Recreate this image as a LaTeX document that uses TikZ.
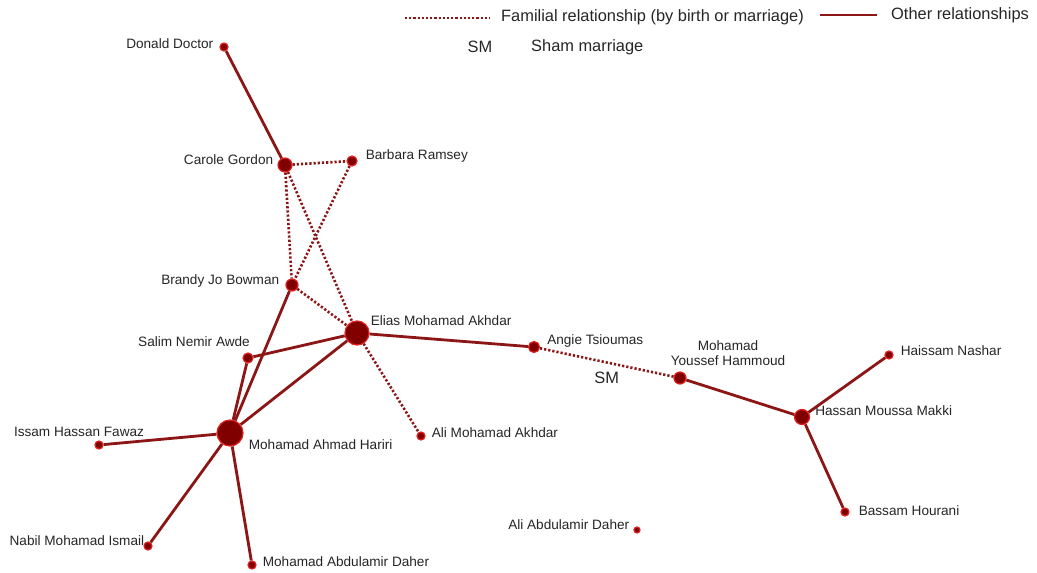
\documentclass[tikz,border=0pt]{standalone}
\usepackage{fontspec}
\setmainfont{Liberation Sans}
\usepackage{xcolor}
\usetikzlibrary{positioning}

\definecolor{tiecol}{RGB}{140,22,22}
\definecolor{dotfill}{RGB}{128,0,0}
\definecolor{dotrim}{RGB}{225,30,30}

\tikzset{
  person/.style={circle, fill=dotfill, draw=dotrim, line width=1.2pt, inner sep=0pt, minimum size=#1},
  person/.default=8pt,
  lbl/.style={font=\fontsize{13.6}{15}\selectfont, inner sep=0pt, text=black!85},
  leg/.style={font=\fontsize{16.4}{18}\selectfont, inner sep=0pt, text=black!85},
  tie/.style={draw=tiecol, line width=2.8pt},
  fam/.style={draw=tiecol, line width=2.6pt, dash pattern=on 2.2pt off 2pt}
}

\begin{document}
\begin{tikzpicture}[x=1pt, y=-1pt, node distance=6pt]
  \useasboundingbox[fill=white] (0,0) rectangle (1037,573);

  % legend
  \coordinate (fa) at (405,18);
  \coordinate (fb) at (490,18);
  \draw[fam] (fa) -- (fb);
  \node (famtxt) [leg, anchor=west] at (501,17) {Familial relationship (by birth or marriage)};
  \coordinate (oa) at (820,15);
  \coordinate (ob) at (877,15);
  \draw[tie] (oa) -- (ob);
  \node (othtxt) [leg, anchor=west] at (891,15) {Other relationships};
  \node (smkey) [leg] at (480,47) {SM};
  \node (smtxt) [leg, anchor=west] at (531,47) {Sham marriage};

  % people
  \node (donald)  [person] at (224,47) {};
  \node (carole)  [person=14pt] at (285,165) {};
  \node (barbara) [person=10pt] at (352,161) {};
  \node (brandy)  [person=12pt] at (292,285) {};
  \node (elias)   [person=24pt] at (357,333) {};
  \node (salim)   [person=10pt] at (248,358) {};
  \node (hariri)  [person=26pt] at (230,433) {};
  \node (issam)   [person] at (99,445) {};
  \node (nabil)   [person] at (148,546) {};
  \node (daher)   [person] at (252,565) {};
  \node (alimo)   [person] at (421,436) {};
  \node (angie)   [person=11pt] at (534,347) {};
  \node (hammoud) [person=12pt] at (680,378) {};
  \node (makki)   [person=15pt] at (802,417) {};
  \node (haissam) [person] at (889,355) {};
  \node (bassam)  [person] at (845,512) {};
  \node (aliab)   [person=6pt] at (637,530) {};

  % names
  \node (donald-l)  [lbl, left=6pt of donald, yshift=3pt] {Donald Doctor};
  \node (carole-l)  [lbl, left=4pt of carole, yshift=5pt] {Carole Gordon};
  \node (barbara-l) [lbl, right=8pt of barbara, yshift=5pt] {Barbara Ramsey};
  \node (brandy-l)  [lbl, left=6pt of brandy, yshift=4pt] {Brandy Jo Bowman};
  \node (elias-l)   [lbl, right=1pt of elias, yshift=12pt] {Elias Mohamad Akhdar};
  \node (salim-l)   [lbl, above=6pt of salim, xshift=-54pt] {Salim Nemir Awde};
  \node (hariri-l)  [lbl, right=5pt of hariri, yshift=-12pt] {Mohamad Ahmad Hariri};
  \node (issam-l)   [lbl, above=4pt of issam, xshift=-20pt] {Issam Hassan Fawaz};
  \node (nabil-l)   [lbl, left=-1pt of nabil, yshift=5pt] {Nabil Mohamad Ismail};
  \node (daher-l)   [lbl, right=6pt of daher, yshift=3pt] {Mohamad Abdulamir Daher};
  \node (alimo-l)   [lbl, right=6pt of alimo, yshift=3pt] {Ali Mohamad Akhdar};
  \node (angie-l)   [lbl, right=7pt of angie, yshift=6pt] {Angie Tsioumas};
  \node (hammoud-l) [lbl, align=center, above=6pt of hammoud, xshift=48pt] {Mohamad\\Youssef Hammoud};
  \node (makki-l)   [lbl, right=5pt of makki, yshift=6pt] {Hassan Moussa Makki};
  \node (haissam-l) [lbl, right=7pt of haissam, yshift=4pt] {Haissam Nashar};
  \node (bassam-l)  [lbl, right=9pt of bassam, yshift=1pt] {Bassam Hourani};
  \node (aliab-l)   [lbl, left=4pt of aliab, yshift=5pt] {Ali Abdulamir Daher};

  % familial ties
  \draw[fam] (carole) -- (barbara);
  \draw[fam] (carole) -- (brandy);
  \draw[fam] (carole) -- (elias);
  \draw[fam] (barbara) -- (brandy);
  \draw[fam] (brandy) -- (elias);
  \draw[fam] (elias) -- (alimo);
  \draw[fam] (angie) -- node (sm) [leg, below=8pt] {SM} (hammoud);

  % other ties
  \draw[tie] (donald) -- (carole);
  \draw[tie] (brandy) -- (hariri);
  \draw[tie] (salim) -- (elias);
  \draw[tie] (salim) -- (hariri);
  \draw[tie] (elias) -- (hariri);
  \draw[tie] (elias) -- (angie);
  \draw[tie] (hariri) -- (issam);
  \draw[tie] (hariri) -- (nabil);
  \draw[tie] (hariri) -- (daher);
  \draw[tie] (hammoud) -- (makki);
  \draw[tie] (makki) -- (haissam);
  \draw[tie] (makki) -- (bassam);
\end{tikzpicture}
\end{document}
